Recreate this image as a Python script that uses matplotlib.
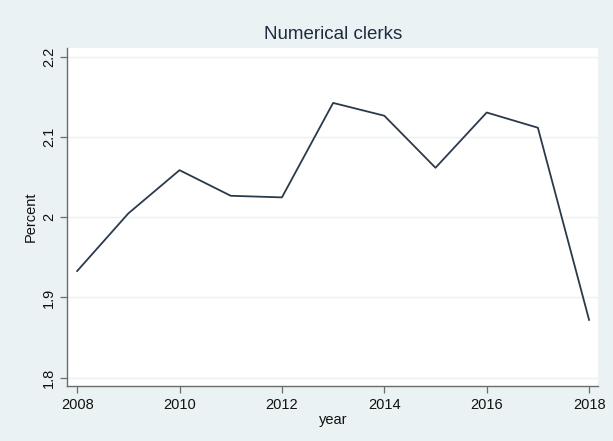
import matplotlib
matplotlib.use("Agg")
import matplotlib.pyplot as plt

# Share of numerical clerks in employment, by year
years = [2008, 2009, 2010, 2011, 2012, 2013, 2014, 2015, 2016, 2017, 2018]
percent = [1.933, 2.005, 2.059, 2.027, 2.025, 2.143, 2.127, 2.062, 2.131, 2.112, 1.872]

x_ticks = [2008, 2010, 2012, 2014, 2016, 2018]
y_ticks = [1.8, 1.9, 2.0, 2.1, 2.2]
y_labels = ["1.8", "1.9", "2", "2.1", "2.2"]

bg = "#eaf2f3"
plt.rcParams["font.family"] = ["Liberation Sans", "DejaVu Sans"]

fig = plt.figure(figsize=(6.13, 4.41), dpi=100, facecolor=bg)
ax = fig.add_axes([0.110, 0.1236, 0.866, 0.7683])
ax.set_facecolor("white")

ax.plot(years, percent, color="#2b3a4a", linewidth=1.3)

ax.set_xlim(2007.81, 2018.18)
ax.set_ylim(1.7888, 2.212)
ax.set_xticks(x_ticks)
ax.set_yticks(y_ticks)
ax.set_yticklabels(y_labels, rotation=90, va="center")

ax.grid(axis="y", color=bg, linewidth=1.0)
ax.set_axisbelow(True)

for side in ["top", "right"]:
    ax.spines[side].set_visible(False)
for side in ["left", "bottom"]:
    ax.spines[side].set_color("#6b6b6b")
    ax.spines[side].set_linewidth(1.0)

ax.tick_params(axis="both", direction="out", length=5, width=0.9,
               color="#6b6b6b", labelsize=10.5, labelcolor="#111111", pad=3)

ax.set_xlabel("year", fontsize=10.5, color="#111111", labelpad=1)
ax.set_ylabel("Percent", fontsize=10.5, color="#111111", labelpad=3)
ax.set_title("Numerical clerks", fontsize=13.5, color="#1e2b40", pad=6)

fig.savefig("out.png", dpi=100, facecolor=bg)
